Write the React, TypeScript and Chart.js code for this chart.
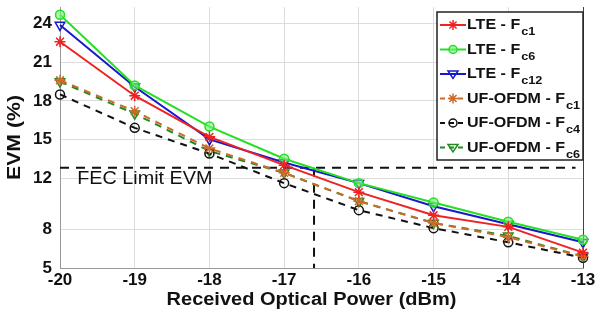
import React, { useEffect, useRef } from "react";
import { Chart, registerables } from "chart.js";

Chart.register(...registerables);

const powers = [-20, -19, -18, -17, -16, -15, -14, -13];
const lteFc1 = [22.6, 18.4, 15.2, 13.0, 10.9, 9.1, 8.2, 6.2];
const lteFc6 = [24.7, 19.2, 16.0, 13.5, 11.6, 10.1, 8.6, 7.2];
const lteFc12 = [23.9, 19.1, 15.0, 13.2, 11.6, 9.8, 8.4, 7.0];
const ufFc1 = [19.6, 17.2, 14.3, 12.4, 10.2, 8.5, 7.4, 5.9];
const ufFc4 = [18.5, 15.9, 13.9, 11.6, 9.5, 8.1, 7.0, 5.8];
const ufFc6 = [19.5, 17.0, 14.1, 12.4, 10.2, 8.5, 7.5, 5.9];
const yTicks = [5, 8, 12, 15, 18, 21, 24];
const fecLimit = 12.8;
const fecPower = -16.6;
const fecLineEnd = -13.1;
const xTitle = "Received Optical Power (dBm)";
const yTitle = "EVM (%)";
const fecText = "FEC Limit EVM";

type Series = {
  main: string;
  sub: string;
  data: number[];
  color: string;
  fill: string;
  style: string;
  dashed: boolean;
};

const series: Series[] = [
  { main: "LTE - F", sub: "c1", data: lteFc1, color: "#ee2222", fill: "#ee2222", style: "star", dashed: false },
  { main: "LTE - F", sub: "c6", data: lteFc6, color: "#22e022", fill: "rgba(120,240,120,0.6)", style: "circle", dashed: false },
  { main: "LTE - F", sub: "c12", data: lteFc12, color: "#1818cc", fill: "rgba(255,255,255,0)", style: "tri", dashed: false },
  { main: "UF-OFDM - F", sub: "c1", data: ufFc1, color: "#cc6a2a", fill: "#cc6a2a", style: "star", dashed: true },
  { main: "UF-OFDM - F", sub: "c4", data: ufFc4, color: "#111111", fill: "rgba(255,255,255,0)", style: "circle", dashed: true },
  { main: "UF-OFDM - F", sub: "c6", data: ufFc6, color: "#228a22", fill: "rgba(255,255,255,0)", style: "tri", dashed: true },
];

const FONT = "'Liberation Sans', Arial, sans-serif";

function drawMarker(ctx: CanvasRenderingContext2D, s: Series, x: number, y: number, r: number) {
  ctx.save();
  ctx.strokeStyle = s.color;
  ctx.fillStyle = s.fill;
  ctx.lineWidth = 1.5;
  ctx.setLineDash([]);
  ctx.beginPath();
  if (s.style === "star") {
    for (let i = 0; i < 4; i++) {
      const a = (i * Math.PI) / 4;
      ctx.moveTo(x - r * Math.cos(a), y - r * Math.sin(a));
      ctx.lineTo(x + r * Math.cos(a), y + r * Math.sin(a));
    }
    ctx.stroke();
  } else if (s.style === "circle") {
    ctx.arc(x, y, r * 0.8, 0, Math.PI * 2);
    ctx.fill();
    ctx.stroke();
  } else {
    ctx.moveTo(x - r, y - r * 0.6);
    ctx.lineTo(x + r, y - r * 0.6);
    ctx.lineTo(x, y + r * 0.9);
    ctx.closePath();
    ctx.fill();
    ctx.stroke();
  }
  ctx.restore();
}

function stretchText(ctx: CanvasRenderingContext2D, text: string, x: number, y: number, sx: number, align: CanvasTextAlign) {
  ctx.save();
  ctx.translate(x, y);
  ctx.scale(sx, 1);
  ctx.textAlign = align;
  ctx.fillText(text, 0, 0);
  ctx.restore();
}

const customPlugin = {
  id: "custom",
  beforeDatasetsDraw(chart: any) {
    const { ctx, chartArea } = chart;
    ctx.save();
    ctx.strokeStyle = "#444";
    ctx.lineWidth = 1;
    ctx.beginPath();
    ctx.moveTo(chartArea.right + 0.5, chartArea.top);
    ctx.lineTo(chartArea.right + 0.5, chartArea.bottom);
    ctx.stroke();
    const xs = chart.scales.x;
    const ys = chart.scales.y;
    ctx.fillStyle = "#111";
    ctx.textBaseline = "middle";
    ctx.font = `18px ${FONT}`;
    stretchText(ctx, fecText, xs.getPixelForValue(-19.77), ys.getPixelForValue(11.95), 1.1, "left");
    ctx.font = `bold 18px ${FONT}`;
    stretchText(ctx, xTitle, (chartArea.left + chartArea.right) / 2 - 10, 300, 1.11, "center");
    ctx.save();
    ctx.translate(15, (chartArea.top + chartArea.bottom) / 2);
    ctx.rotate(-Math.PI / 2);
    ctx.font = `bold 19px ${FONT}`;
    stretchText(ctx, yTitle, 0, 0, 1.12, "center");
    ctx.restore();
    ctx.restore();
  },
  afterDraw(chart: any) {
    const { ctx, chartArea } = chart;
    ctx.save();
    const bx = 437;
    const by = 12;
    const bw = chartArea.right - bx;
    const bh = 148;
    ctx.fillStyle = "#fff";
    ctx.fillRect(bx, by, bw, bh);
    ctx.strokeStyle = "#222";
    ctx.lineWidth = 1.5;
    ctx.strokeRect(bx, by, bw, bh);
    series.forEach((s, i) => {
      const cy = by + 13 + i * 24.5;
      ctx.strokeStyle = s.color;
      ctx.lineWidth = 2;
      ctx.setLineDash(s.dashed ? [5, 4] : []);
      ctx.beginPath();
      ctx.moveTo(bx + 3, cy);
      ctx.lineTo(bx + 29, cy);
      ctx.stroke();
      ctx.setLineDash([]);
      drawMarker(ctx, s, bx + 16, cy, 5);
      ctx.fillStyle = "#111";
      ctx.textBaseline = "middle";
      ctx.font = `bold 15px ${FONT}`;
      const sx = 1.07;
      stretchText(ctx, s.main, bx + 30, cy, sx, "left");
      const w = ctx.measureText(s.main).width * sx;
      ctx.font = `bold 11px ${FONT}`;
      stretchText(ctx, s.sub, bx + 31 + w, cy + 7, 1.15, "left");
    });
    ctx.restore();
  },
};

export default function App() {
  const ref = useRef<HTMLCanvasElement | null>(null);
  useEffect(() => {
    if (!ref.current) return;
    const datasets: any[] = series.map((s) => ({
      label: s.main + s.sub,
      data: powers.map((p, i) => ({ x: p, y: s.data[i] })),
      borderColor: s.color,
      backgroundColor: s.fill,
      borderWidth: 2,
      borderDash: s.dashed ? [7, 6] : [],
      pointStyle: s.style === "star" ? "star" : s.style === "circle" ? "circle" : "triangle",
      pointRotation: s.style === "tri" ? 180 : 0,
      pointRadius: s.style === "circle" ? 4.5 : 5.5,
      pointBorderWidth: 1.5,
      pointBorderColor: s.color,
      pointBackgroundColor: s.fill,
      fill: false,
      tension: 0,
      clip: false,
    }));
    datasets.push({
      label: "fecH",
      data: [
        { x: powers[0], y: fecLimit },
        { x: fecLineEnd, y: fecLimit },
      ],
      borderColor: "#111",
      borderWidth: 2,
      borderDash: [9, 7],
      pointRadius: 0,
      fill: false,
    });
    datasets.push({
      label: "fecV",
      data: [
        { x: fecPower, y: fecLimit },
        { x: fecPower, y: yTicks[0] },
      ],
      borderColor: "#111",
      borderWidth: 2,
      borderDash: [9, 7],
      pointRadius: 0,
      fill: false,
    });
    const chart = new Chart(ref.current, {
      type: "line",
      data: { datasets },
      plugins: [customPlugin],
      options: {
        animation: false,
        responsive: false,
        maintainAspectRatio: false,
        layout: { padding: { left: 0, right: 17, top: 5, bottom: 0 } },
        plugins: { legend: { display: false }, tooltip: { enabled: false } },
        scales: {
          x: {
            type: "linear",
            min: -20,
            max: -13,
            ticks: { stepSize: 1, color: "#111", font: { family: FONT, size: 17, weight: "bold" }, padding: 2 },
            grid: { color: "#dcdcdc", drawTicks: false },
            border: { color: "#999" },
            afterFit: (s: any) => {
              s.height = 52;
            },
          },
          y: {
            type: "linear",
            min: 5,
            max: 25.3,
            afterBuildTicks: (s: any) => {
              s.ticks = yTicks.map((v) => ({ value: v }));
            },
            ticks: { color: "#111", font: { family: FONT, size: 17, weight: "bold", lineHeight: 0.1 }, padding: 4 },
            grid: { color: "#dcdcdc", drawTicks: true, tickLength: 4, tickColor: "rgba(0,0,0,0)" },
            border: { color: "#999" },
            afterFit: (s: any) => {
              s.width = 60;
            },
          },
        },
      },
    });
    return () => chart.destroy();
  }, []);
  return (
    <div style={{ position: "absolute", left: 0, top: 0, width: 600, height: 320, background: "#fff" }}>
      <canvas ref={ref} width={600} height={320} style={{ width: 600, height: 320, display: "block" }} />
    </div>
  );
}
